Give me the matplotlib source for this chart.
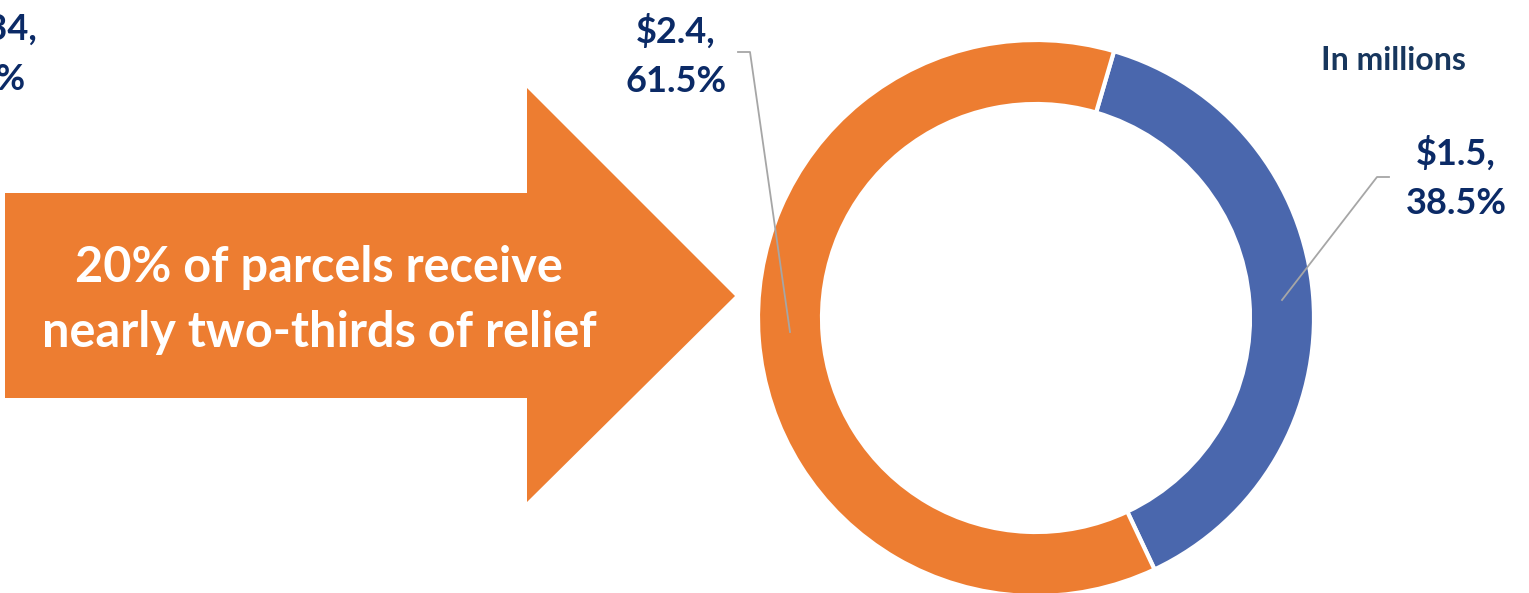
"""
Donut chart: share of relief going to the top 20% of parcels.
"""
import matplotlib.pyplot as plt
from matplotlib.patches import Polygon

# -*- Data -*-
categories = ["Remaining 80% of parcels", "Top 20% of parcels"]
relief_millions = [1.5, 2.4]
relief_share = [38.5, 61.5]
slice_colors = ["#4A67AD", "#ED7D31"]

headline = "20% of parcels receive\nnearly two-thirds of relief"
units_note = "In millions"

W, H = 1529, 593
NAVY = "#0B2A66"
GREY = "#A6A6A6"
FONT = ["Lato", "DejaVu Sans"]

fig = plt.figure(figsize=(W / 100, H / 100), dpi=100)
ax = fig.add_axes([0, 0, 1, 1])

# Donut (pixel-like coordinates, y up).
cx, cy, rad = 1036, H - 318, 278
wedges, _ = ax.pie(relief_millions, colors=slice_colors, startangle=73.7,
                   counterclock=False, center=(cx, cy), radius=rad,
                   wedgeprops=dict(width=64, edgecolor="white", linewidth=3),
                   frame=True)

# Big orange arrow on the left.
arrow_pts = [(5, H - 193), (527, H - 193), (527, H - 88), (735, H - 296),
             (527, H - 502), (527, H - 398), (5, H - 398)]
ax.add_patch(Polygon(arrow_pts, closed=True, facecolor="#ED7D31",
                     edgecolor="none"))
ax.text(319, H - 300, headline, color="white", fontsize=35,
        fontweight="bold", family=FONT, ha="center", va="center",
        linespacing=1.55)


# Data labels with leader lines.
def label(text, x, y):
    ax.text(x, H - y, text, color=NAVY, fontsize=26, fontweight="bold",
            family=FONT, ha="center", va="center", linespacing=1.6)


label("${:.1f},\n{:.1f}%".format(relief_millions[1], relief_share[1]), 676, 56)
label("${:.1f},\n{:.1f}%".format(relief_millions[0], relief_share[0]), 1456, 178)

ax.plot([738, 750, 790], [H - 52, H - 52, H - 332], color=GREY, lw=1.3)
ax.plot([1389, 1377, 1282], [H - 177, H - 177, H - 300], color=GREY, lw=1.3)

ax.text(1393, H - 60, units_note, color="#17365D", fontsize=23,
        fontweight="bold", family=FONT, ha="center", va="center")

# Clipped label from the neighbouring chart.
ax.text(38, H - 28, "$1.34,", color=NAVY, fontsize=26, fontweight="bold",
        family=FONT, ha="right", va="center")
ax.text(26, H - 80, "65.9%", color=NAVY, fontsize=26, fontweight="bold",
        family=FONT, ha="right", va="center")

ax.set_xlim(0, W)
ax.set_ylim(0, H)
ax.set_aspect("equal")
ax.axis("off")

fig.savefig("out.png", dpi=100, facecolor="white")
